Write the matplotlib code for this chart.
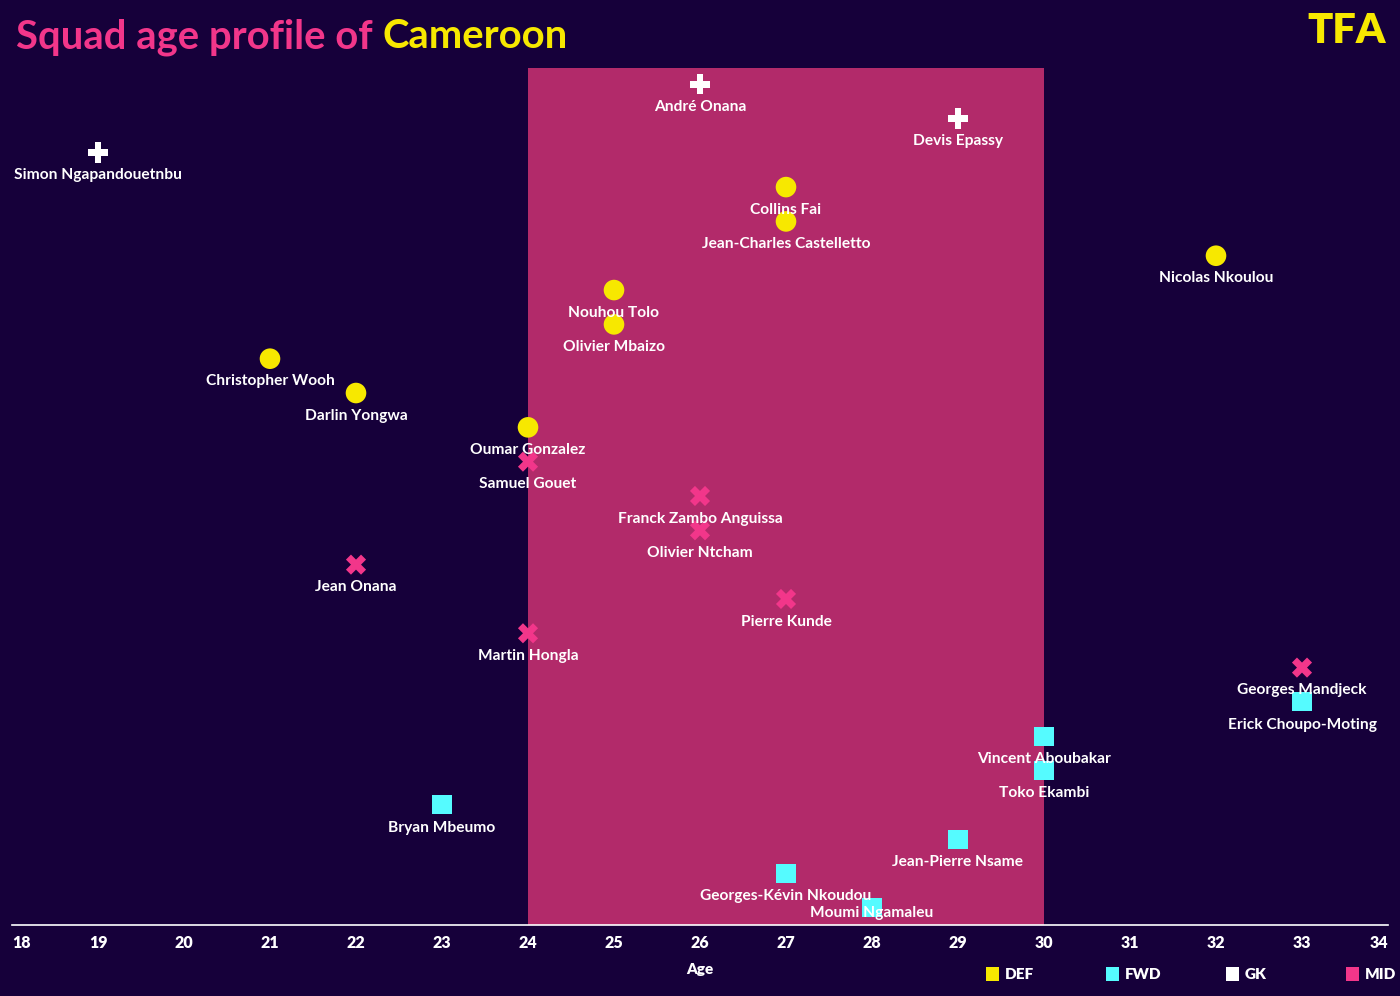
import matplotlib
matplotlib.use("Agg")
import matplotlib.pyplot as plt
from matplotlib.patches import Rectangle

# ── Data (top to bottom as drawn) ─────────────────────────────────────────
players = [
    "André Onana", "Devis Epassy", "Simon Ngapandouetnbu",
    "Collins Fai", "Jean-Charles Castelletto", "Nicolas Nkoulou",
    "Nouhou Tolo", "Olivier Mbaizo", "Christopher Wooh", "Darlin Yongwa",
    "Oumar Gonzalez",
    "Samuel Gouet", "Franck Zambo Anguissa", "Olivier Ntcham", "Jean Onana",
    "Pierre Kunde", "Martin Hongla", "Georges Mandjeck",
    "Erick Choupo-Moting", "Vincent Aboubakar", "Toko Ekambi", "Bryan Mbeumo",
    "Jean-Pierre Nsame", "Georges-Kévin Nkoudou", "Moumi Ngamaleu",
]
ages = [26, 29, 19,
        27, 27, 32, 25, 25, 21, 22, 24,
        24, 26, 26, 22, 27, 24, 33,
        33, 30, 30, 23, 29, 27, 28]
positions = ["GK"] * 3 + ["DEF"] * 8 + ["MID"] * 7 + ["FWD"] * 7

peak_start, peak_end = 24, 30
x_ticks = list(range(18, 35))
legend_order = ["DEF", "FWD", "GK", "MID"]

# ── Style ─────────────────────────────────────────────────────────────────
BG = "#16003a"
BAND = "#b22a6a"
PINK = "#f2368a"
YELLOW = "#f7e800"
CYAN = "#55fbff"
WHITE = "#ffffff"

COLORS = {"DEF": YELLOW, "FWD": CYAN, "GK": WHITE, "MID": PINK}
MARKERS = {"DEF": "o", "FWD": "s", "GK": "P", "MID": "X"}
SIZES = {"DEF": 220, "FWD": 190, "GK": 220, "MID": 210}

W, H = 1400, 996
plt.rcParams["font.family"] = ["Lato", "DejaVu Sans"]

fig = plt.figure(figsize=(W / 100, H / 100), dpi=100, facecolor=BG)
ax = fig.add_axes([12 / W, 1 - 925 / H, 1376 / W, (925 - 68) / H])
ax.set_facecolor(BG)

n = len(players)
ax.set_xlim(18, 34)
ax.set_ylim(-0.5, n - 1 + 0.47)

ax.add_patch(Rectangle((peak_start, -0.5), peak_end - peak_start, n + 0.2,
                       facecolor=BAND, edgecolor="none", zorder=0))

for i, (name, age, pos) in enumerate(zip(players, ages, positions)):
    y = n - 1 - i
    ax.scatter(age, y, marker=MARKERS[pos], s=SIZES[pos], color=COLORS[pos],
               edgecolors="none", zorder=3, clip_on=False)
    # label sits under the marker, but is kept above the axis line
    ly = max(y - 0.66, -0.15)
    ax.text(age, ly, name, ha="center", va="center", color=WHITE,
            fontsize=11.2, fontweight="bold", zorder=4)

# axes cosmetics
for side in ["top", "right", "left"]:
    ax.spines[side].set_visible(False)
ax.spines["bottom"].set_color(WHITE)
ax.spines["bottom"].set_linewidth(1.2)
ax.set_yticks([])
ax.set_xticks(x_ticks)
ax.set_xticklabels([str(t) for t in x_ticks])
ax.tick_params(axis="x", length=0, pad=7, labelsize=11.5, colors=WHITE)
for lab in ax.get_xticklabels():
    lab.set_fontweight("heavy")
ax.get_xticklabels()[0].set_ha("left")
ax.get_xticklabels()[-1].set_ha("right")
ax.set_xlabel("Age", color=WHITE, fontsize=11, fontweight="heavy", labelpad=9)

# legend (drawn by hand, one square + label per position)
for k, pos in enumerate(legend_order):
    x0 = 986 + k * 120
    fig.add_artist(Rectangle((x0 / W, 1 - 981 / H), 13 / W, 14 / H,
                             transform=fig.transFigure,
                             facecolor=COLORS[pos], edgecolor="none"))
    fig.text((x0 + 19) / W, 1 - 974 / H, pos, color=WHITE, fontsize=11,
             fontweight="heavy", ha="left", va="center")

# title
t1 = fig.text(16 / W, 1 - 37 / H, "Squad age profile of ", color=PINK,
              fontsize=28.8, fontweight="bold", va="center", ha="left")
fig.canvas.draw()
bb = t1.get_window_extent()
fig.text(bb.x1 / fig.bbox.width, 1 - 37 / H, "Cameroon", color=YELLOW,
         fontsize=28.8, fontweight="bold", va="center", ha="left")

fig.text(1386 / W, 1 - 31 / H, "TFA", color=YELLOW, fontsize=30,
         fontweight="heavy", va="center", ha="right")

fig.savefig("out.png", dpi=100, facecolor=BG)
